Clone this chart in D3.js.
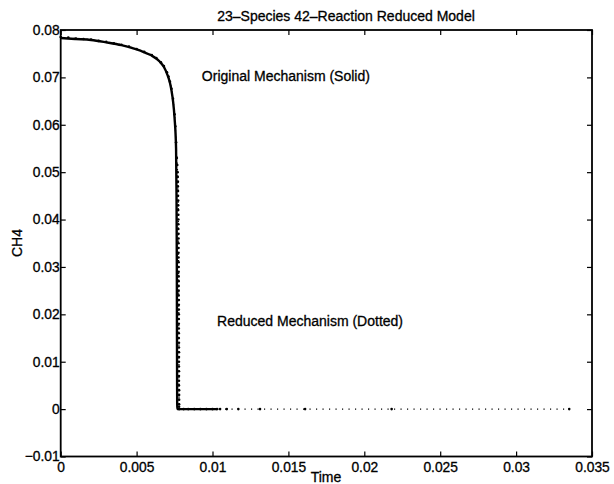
<!DOCTYPE html>
<html>
<head>
<meta charset="utf-8">
<script src="https://cdn.jsdelivr.net/npm/d3@7"></script>
<style>
  html, body { margin: 0; padding: 0; background: #fff; }
  svg { display: block; }
  text { font-family: "Liberation Sans", Arial, Helvetica, sans-serif; fill: #000; stroke: #000; stroke-width: 0.3px; }
</style>
</head>
<body>
<svg id="chart" width="614" height="484"></svg>
<script>
// ---- data ----
const xTicks = [0, 0.005, 0.01, 0.015, 0.02, 0.025, 0.03, 0.035];
const xTickLabels = ["0", "0.005", "0.01", "0.015", "0.02", "0.025", "0.03", "0.035"];
const yTicks = [-0.01, 0, 0.01, 0.02, 0.03, 0.04, 0.05, 0.06, 0.07, 0.08];
const yTickLabels = ["\u22120.01", "0", "0.01", "0.02", "0.03", "0.04", "0.05", "0.06", "0.07", "0.08"];

// Original mechanism (solid)
const origTime = [0, 0.001, 0.002, 0.003, 0.004, 0.005, 0.0055, 0.006, 0.0065, 0.0068, 0.007, 0.0072, 0.0073, 0.0074, 0.0075, 0.0076, 0.00763, 0.00765, 0.00766, 0.00767, 0.00768, 0.0085, 0.0095, 0.0103];
const origCH4  = [0.0783, 0.0781, 0.0779, 0.0774, 0.0768, 0.0759, 0.0753, 0.0746, 0.0734, 0.0722, 0.0708, 0.0688, 0.0672, 0.0650, 0.0615, 0.0550, 0.045, 0.030, 0.015, 0.004, 0, 0, 0, 0];

// Reduced mechanism (dotted)
const redTime = [0, 0.0005, 0.001, 0.0015, 0.002, 0.0025, 0.003, 0.0035, 0.004, 0.0045, 0.005, 0.0055, 0.006, 0.0063, 0.0066, 0.0068, 0.007, 0.0071, 0.0072, 0.0073, 0.0074, 0.0075, 0.00755, 0.0076, 0.00765, 0.00768,
  0.0077, 0.00771, 0.00772, 0.00772, 0.00773, 0.00773, 0.00774, 0.00774, 0.00774, 0.00775, 0.00775, 0.00775, 0.00775, 0.00776, 0.00776, 0.00776, 0.00776, 0.00776, 0.00776, 0.00777, 0.00777, 0.00777, 0.00777, 0.00777, 0.00777, 0.00777, 0.00777, 0.00778, 0.00778, 0.00778, 0.00778, 0.00778, 0.00778, 0.00778, 0.00778, 0.00778, 0.00779, 0.00779, 0.00779, 0.00779, 0.00779, 0.00779, 0.00779, 0.00779, 0.00779, 0.00779, 0.0078, 0.0078, 0.0078, 0.0078, 0.0078, 0.0078,
  0.0081, 0.0084, 0.0088, 0.0092, 0.0096, 0.0100, 0.0103, 0.0105, 0.01094, 0.0117, 0.01313, 0.0161, 0.0218, 0.0335];
const redCH4 = [0.0785, 0.0784, 0.0782, 0.0781, 0.0780, 0.0777, 0.0775, 0.0772, 0.0769, 0.0765, 0.0760, 0.0754, 0.0747, 0.0741, 0.0732, 0.0724, 0.0711, 0.0702, 0.0691, 0.0676, 0.0655, 0.0622, 0.0597, 0.0563, 0.0530, 0.0515,
  0.0500, 0.0490, 0.0480, 0.0470, 0.0460, 0.0450, 0.0440, 0.0430, 0.0420, 0.0410, 0.0400, 0.0390, 0.0380, 0.0370, 0.0360, 0.0350, 0.0340, 0.0330, 0.0320, 0.0310, 0.0300, 0.0290, 0.0280, 0.0270, 0.0260, 0.0250, 0.0240, 0.0230, 0.0220, 0.0210, 0.0200, 0.0190, 0.0180, 0.0170, 0.0160, 0.0150, 0.0140, 0.0130, 0.0120, 0.0110, 0.0100, 0.0090, 0.0080, 0.0070, 0.0060, 0.0050, 0.0040, 0.0030, 0.0020, 0.0010, 0.0005, 0,
  0, 0, 0, 0, 0, 0, 0, 0, 0, 0, 0, 0, 0, 0];

const titleText = "23\u2013Species 42\u2013Reaction Reduced Model";
const xLabel = "Time";
const yLabel = "CH4";
const annoOriginal = "Original Mechanism (Solid)";
const annoReduced = "Reduced Mechanism (Dotted)";

// ---- layout ----
const W = 614, H = 484;
const L = 60.7, R = 592, T = 30, B = 456.5;

const svg = d3.select("#chart");
const x = d3.scaleLinear().domain([0, 0.035]).range([L, R]);
const y = d3.scaleLinear().domain([-0.01, 0.08]).range([B, T]);

// frame
svg.append("rect")
  .attr("x", L).attr("y", T).attr("width", R - L).attr("height", B - T)
  .attr("fill", "none").attr("stroke", "#000").attr("stroke-width", 1.8);

const tickLen = 5;
function styleAxis(g) {
  g.select(".domain").remove();
  g.selectAll(".tick line").attr("stroke", "#000").attr("stroke-width", 1.2);
  g.selectAll(".tick text").attr("font-size", 13.8).attr("fill", "#000")
    .attr("font-family", '"Liberation Sans", Arial, Helvetica, sans-serif');
}

// bottom axis (ticks inward)
svg.append("g").attr("transform", `translate(0,${B})`)
  .call(d3.axisBottom(x).tickValues(xTicks).tickSizeInner(-tickLen).tickSizeOuter(0)
    .tickPadding(6).tickFormat((d, i) => xTickLabels[i]))
  .call(styleAxis);
// top axis ticks
svg.append("g").attr("transform", `translate(0,${T})`)
  .call(d3.axisTop(x).tickValues(xTicks).tickSizeInner(-tickLen).tickSizeOuter(0).tickFormat(""))
  .call(styleAxis);
// left axis
svg.append("g").attr("transform", `translate(${L},0)`)
  .call(d3.axisLeft(y).tickValues(yTicks).tickSizeInner(-tickLen).tickSizeOuter(0)
    .tickPadding(1).tickFormat((d, i) => yTickLabels[i]))
  .call(styleAxis);
// right axis ticks
svg.append("g").attr("transform", `translate(${R},0)`)
  .call(d3.axisRight(y).tickValues(yTicks).tickSizeInner(-tickLen).tickSizeOuter(0).tickFormat(""))
  .call(styleAxis);

// original solid line
const origData = origTime.map((t, i) => [t, origCH4[i]]);
svg.append("path")
  .datum(origData)
  .attr("fill", "none").attr("stroke", "#000").attr("stroke-width", 2.4)
  .attr("stroke-linejoin", "round")
  .attr("d", d3.line().x(d => x(d[0])).y(d => y(d[1])).curve(d3.curveMonotoneX));

// reduced dotted line
const redData = redTime.map((t, i) => [t, redCH4[i]]);
svg.append("path")
  .datum(redData)
  .attr("fill", "none").attr("stroke", "#000").attr("stroke-width", 1.2)
  .attr("stroke-dasharray", "1.2,5.3")
  .attr("d", d3.line().x(d => x(d[0])).y(d => y(d[1])));
svg.append("g").selectAll("circle")
  .data(redData).join("circle")
  .attr("cx", d => x(d[0])).attr("cy", d => y(d[1]))
  .attr("r", 1.3).attr("fill", "#000");

// title & labels
svg.append("text").attr("x", 346).attr("y", 21)
  .attr("text-anchor", "middle").attr("font-size", 14).text(titleText);
svg.append("text").attr("x", 326).attr("y", 482)
  .attr("text-anchor", "middle").attr("font-size", 14).text(xLabel);
svg.append("text").attr("transform", "translate(22,243) rotate(-90)")
  .attr("text-anchor", "middle").attr("font-size", 14).text(yLabel);

// annotations
svg.append("text").attr("x", x(0.0093)).attr("y", y(0.0692))
  .attr("font-size", 14).text(annoOriginal);
svg.append("text").attr("x", x(0.0103)).attr("y", y(0.0176))
  .attr("font-size", 14).text(annoReduced);
</script>
</body>
</html>
